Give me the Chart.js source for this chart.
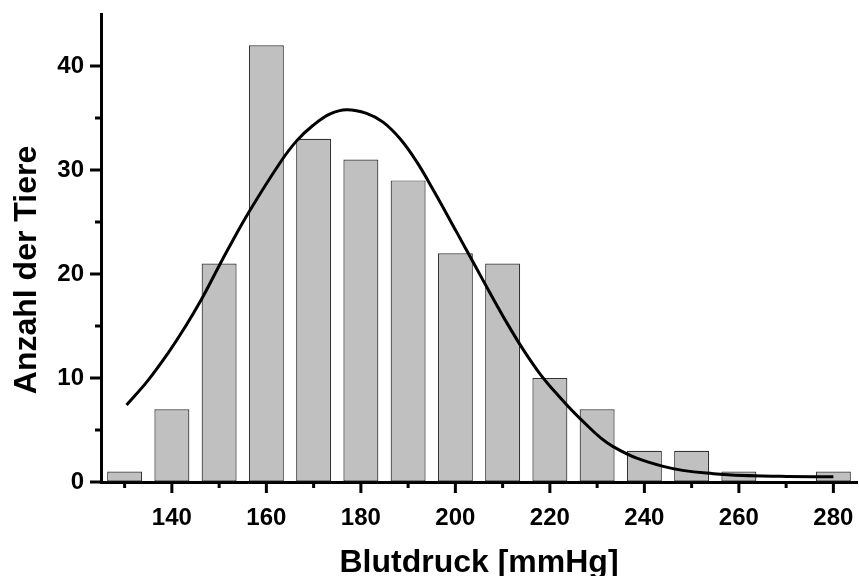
<!DOCTYPE html>
<html>
<head>
<meta charset="utf-8">
<script src="https://cdn.jsdelivr.net/npm/chart.js@4"></script>
<style>
  body { margin: 0; background: #fff; }
</style>
</head>
<body>
<canvas id="chart1" width="859" height="576"></canvas>
<script>
// histogram classes (mmHg) and counts
const classes = [130, 140, 150, 160, 170, 180, 190, 200, 210, 220, 230, 240, 250, 260, 270, 280];
const counts  = [1, 7, 21, 42, 33, 31, 29, 22, 21, 10, 7, 3, 3, 1, 0, 1];

// fitted curve
const fitX = [130.4, 135.0, 139.2, 142.8, 146.3, 149.1, 151.9, 156.5, 162.9, 166.4, 169.9, 173.5, 177.0, 181.2, 184.7, 188.3, 191.8, 195.3, 200.3, 203.8, 207.3, 210.9, 214.4, 217.9, 221.4, 226.4, 233.4, 244.0, 254.6, 268.7, 280.0];
const fitY = [7.4, 9.8, 12.4, 14.9, 17.6, 20.0, 22.4, 26.1, 30.7, 32.8, 34.3, 35.4, 35.8, 35.45, 34.6, 33.0, 30.8, 28.1, 24.0, 21.1, 18.2, 15.3, 12.7, 10.4, 8.5, 6.1, 3.4, 1.5, 0.8, 0.55, 0.5];

const xLabels = [140, 160, 180, 200, 220, 240, 260, 280];
const xMinor = [130, 150, 170, 190, 210, 230, 250, 270];
const yLabels = [0, 10, 20, 30, 40];
const yMinor = [5, 15, 25, 35];

const FONT = "'Liberation Sans', Arial, sans-serif";

// tick marks + axis titles
const axisDeco = {
  id: 'axisDeco',
  afterDraw(chart) {
    const ctx = chart.ctx;
    const xs = chart.scales.x, ys = chart.scales.y;
    const area = chart.chartArea;
    ctx.save();
    ctx.strokeStyle = '#000';
    ctx.lineCap = 'butt';
    function tickX(v, len, w) {
      const px = xs.getPixelForValue(v);
      ctx.lineWidth = w;
      ctx.beginPath();
      ctx.moveTo(px, area.bottom);
      ctx.lineTo(px, area.bottom + len);
      ctx.stroke();
    }
    function tickY(v, len, w) {
      const py = ys.getPixelForValue(v);
      ctx.lineWidth = w;
      ctx.beginPath();
      ctx.moveTo(area.left, py);
      ctx.lineTo(area.left - len, py);
      ctx.stroke();
    }
    xLabels.forEach(v => tickX(v, 11, 3));
    xMinor.forEach(v => tickX(v, 6, 3));
    yLabels.forEach(v => tickY(v, 11, 3));
    yMinor.forEach(v => tickY(v, 6, 3));

    ctx.fillStyle = '#000';
    ctx.font = 'bold 32px ' + FONT;
    ctx.textAlign = 'center';
    ctx.textBaseline = 'alphabetic';
    ctx.fillText('Blutdruck [mmHg]', 479, 572);

    ctx.translate(36, 270);
    ctx.rotate(-Math.PI / 2);
    ctx.fillText('Anzahl der Tiere', 0, 0);
    ctx.restore();
  }
};

function noPad(scale) {
  scale.paddingTop = 0;
  scale.paddingBottom = 0;
  scale.paddingLeft = 0;
  scale.paddingRight = 0;
}

new Chart(document.getElementById('chart1'), {
  type: 'bar',
  data: {
    datasets: [
      {
        type: 'line',
        label: 'Fit',
        data: fitX.map((x, i) => ({ x: x, y: fitY[i] })),
        borderColor: '#000',
        borderWidth: 3,
        pointRadius: 0,
        fill: false,
        tension: 0.4,
        order: 0
      },
      {
        type: 'bar',
        label: 'Anzahl',
        data: classes.map((x, i) => ({ x: x, y: counts[i] })),
        backgroundColor: '#c0c0c0',
        borderColor: '#333',
        borderWidth: 1.2,
        borderSkipped: false,
        barPercentage: 0.74,
        categoryPercentage: 1,
        order: 1
      }
    ]
  },
  options: {
    responsive: false,
    animation: false,
    layout: { padding: { top: 14, right: 2, left: 0, bottom: 0 } },
    plugins: { legend: { display: false }, tooltip: { enabled: false } },
    scales: {
      x: {
        type: 'linear',
        min: 125,
        max: 285,
        offset: false,
        afterFit(scale) { scale.height = 94; noPad(scale); },
        afterBuildTicks(scale) { scale.ticks = xLabels.map(v => ({ value: v })); },
        grid: { display: true, drawOnChartArea: false, drawTicks: false },
        border: { display: true, width: 3, color: '#000' },
        ticks: {
          color: '#000',
          padding: 22,
          maxRotation: 0,
          autoSkip: false,
          font: { family: FONT, size: 24, weight: 'bold' }
        }
      },
      y: {
        min: 0,
        max: 45,
        afterFit(scale) { scale.width = 101; noPad(scale); },
        afterBuildTicks(scale) { scale.ticks = yLabels.map(v => ({ value: v })); },
        grid: { display: true, drawOnChartArea: false, drawTicks: false },
        border: { display: true, width: 3, color: '#000' },
        ticks: {
          color: '#000',
          padding: 17,
          font: { family: FONT, size: 24, weight: 'bold' }
        }
      }
    }
  },
  plugins: [axisDeco]
});
</script>
</body>
</html>
